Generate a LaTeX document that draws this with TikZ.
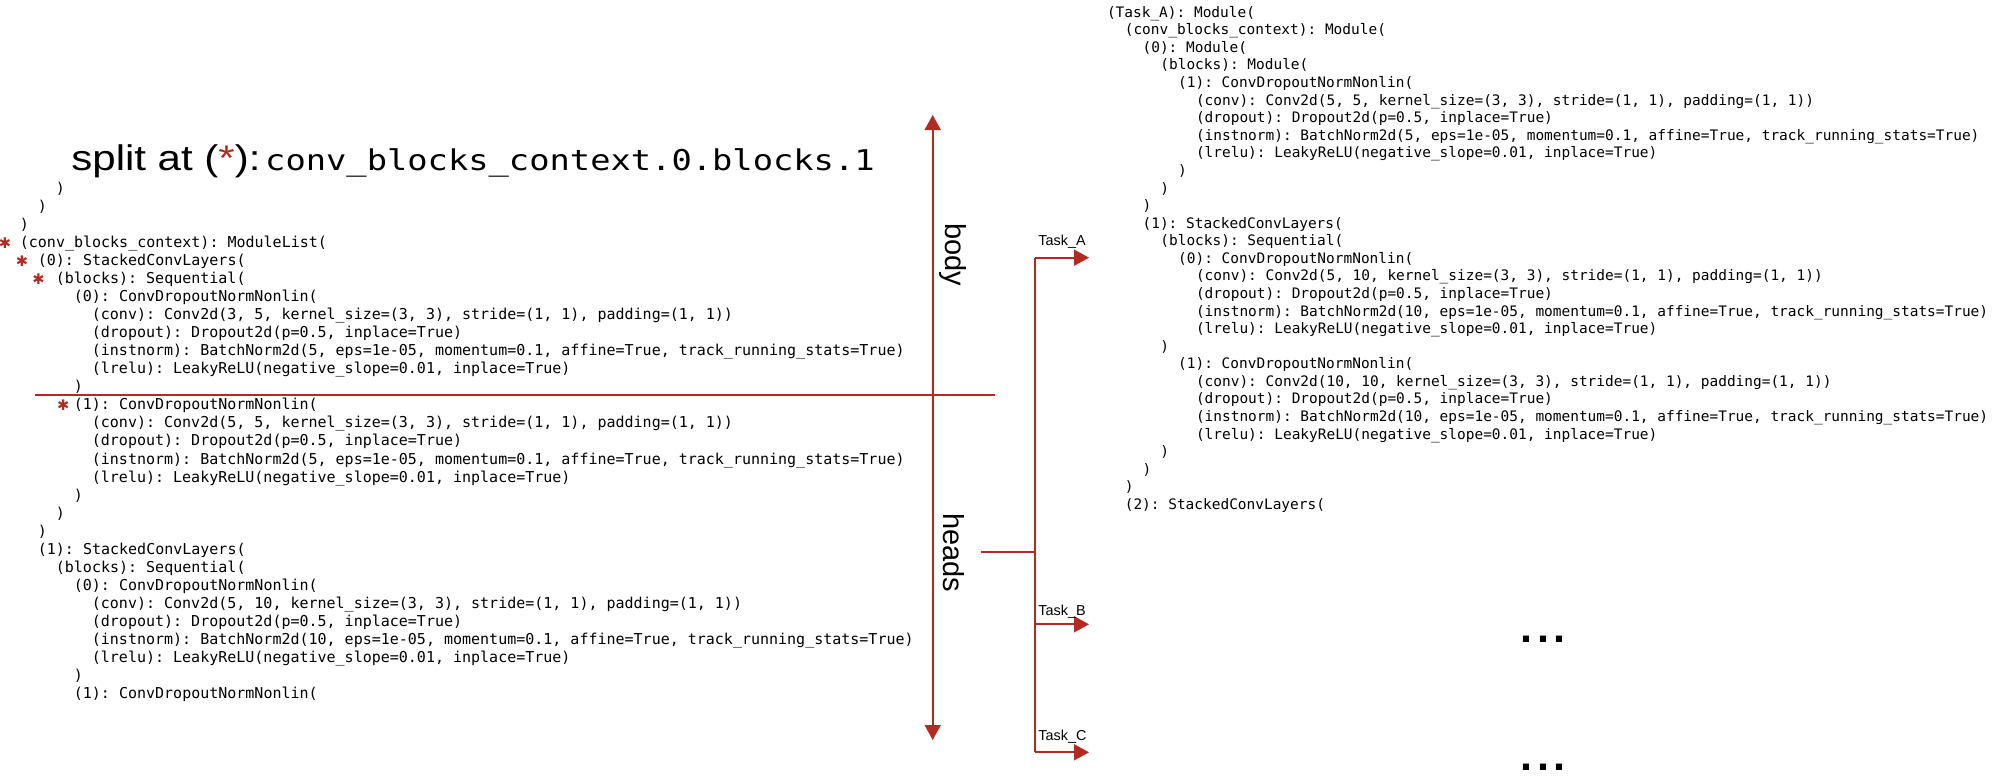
\documentclass[tikz,border=0pt]{standalone}
\usepackage{fontspec}
\setsansfont{Liberation Sans}
\setmonofont{DejaVu Sans Mono}
\newfontfamily\symbolfont{DejaVu Sans}
\usepackage{graphicx}
\usetikzlibrary{arrows.meta,positioning}
\definecolor{splitred}{HTML}{B22A22}

\begin{document}
\begin{tikzpicture}[
    x=0.5pt,y=-0.5pt,
    codeL/.style={font=\ttfamily\fontsize{7.5}{9}\selectfont,anchor=base west,inner sep=0pt},
    codeR/.style={font=\ttfamily\fontsize{7.23}{9}\selectfont,anchor=base west,inner sep=0pt},
    marker/.style={text=splitred,font=\symbolfont\fontsize{7.3}{8}\selectfont,inner sep=0pt},
    part/.style={font=\sffamily\fontsize{14.5}{16}\selectfont,rotate=-90,inner sep=0pt},
    task/.style={font=\sffamily\fontsize{7.2}{8}\selectfont,anchor=base west,inner sep=0pt},
    more/.style={font=\sffamily\bfseries\fontsize{21.5}{24}\selectfont,anchor=base,inner sep=0pt},
    redline/.style={draw=splitred,line width=0.85pt},
    arrow/.style={redline,-{Triangle[length=7.5pt,width=8pt]}},
    bothways/.style={redline,{Triangle[length=7.5pt,width=8pt]}-{Triangle[length=7.5pt,width=8pt]}}
  ]
    \useasboundingbox (0,0) rectangle (1994,782);
    % title
    \node[anchor=base west,inner sep=0pt] (title) at (71,170) {\scalebox{1.18}[1]{\sffamily\fontsize{17.8}{20}\selectfont split at (\textcolor{splitred}{*}):\hspace{2pt}\ttfamily\fontsize{14.3}{16}\selectfont conv\_blocks\_context.0.blocks.1}};
    % body network
    \foreach \ind/\txt [count=\i from 0] in {
        4/{)}, 2/{)}, 0/{)},
        0/{(conv\_blocks\_context): ModuleList(},
        2/{(0): StackedConvLayers(},
        4/{(blocks): Sequential(},
        6/{(0): ConvDropoutNormNonlin(},
        8/{(conv): Conv2d(3, 5, kernel\_size=(3, 3), stride=(1, 1), padding=(1, 1))},
        8/{(dropout): Dropout2d(p=0.5, inplace=True)},
        8/{(instnorm): BatchNorm2d(5, eps=1e-05, momentum=0.1, affine=True, track\_running\_stats=True)},
        8/{(lrelu): LeakyReLU(negative\_slope=0.01, inplace=True)},
        6/{)},
        6/{(1): ConvDropoutNormNonlin(},
        8/{(conv): Conv2d(5, 5, kernel\_size=(3, 3), stride=(1, 1), padding=(1, 1))},
        8/{(dropout): Dropout2d(p=0.5, inplace=True)},
        8/{(instnorm): BatchNorm2d(5, eps=1e-05, momentum=0.1, affine=True, track\_running\_stats=True)},
        8/{(lrelu): LeakyReLU(negative\_slope=0.01, inplace=True)},
        6/{)}, 4/{)}, 2/{)},
        2/{(1): StackedConvLayers(},
        4/{(blocks): Sequential(},
        6/{(0): ConvDropoutNormNonlin(},
        8/{(conv): Conv2d(5, 10, kernel\_size=(3, 3), stride=(1, 1), padding=(1, 1))},
        8/{(dropout): Dropout2d(p=0.5, inplace=True)},
        8/{(instnorm): BatchNorm2d(10, eps=1e-05, momentum=0.1, affine=True, track\_running\_stats=True)},
        8/{(lrelu): LeakyReLU(negative\_slope=0.01, inplace=True)},
        6/{)},
        6/{(1): ConvDropoutNormNonlin(}}
      \node[codeL] (L\i) at ({19.5+9*\ind},{193+18.07*\i}) {\txt};
    % split markers
    \node[marker] (m3) at (5,243) {✱};
    \node[marker] (m4) at (22,261) {✱};
    \node[marker] (m5) at (38.4,279) {✱};
    \node[marker] (m12) at (63.3,405) {✱};
    % head network
    \foreach \ind/\txt [count=\i from 0] in {
        0/{(Task\_A): Module(},
        2/{(conv\_blocks\_context): Module(},
        4/{(0): Module(},
        6/{(blocks): Module(},
        8/{(1): ConvDropoutNormNonlin(},
        10/{(conv): Conv2d(5, 5, kernel\_size=(3, 3), stride=(1, 1), padding=(1, 1))},
        10/{(dropout): Dropout2d(p=0.5, inplace=True)},
        10/{(instnorm): BatchNorm2d(5, eps=1e-05, momentum=0.1, affine=True, track\_running\_stats=True)},
        10/{(lrelu): LeakyReLU(negative\_slope=0.01, inplace=True)},
        8/{)}, 6/{)}, 4/{)},
        4/{(1): StackedConvLayers(},
        6/{(blocks): Sequential(},
        8/{(0): ConvDropoutNormNonlin(},
        10/{(conv): Conv2d(5, 10, kernel\_size=(3, 3), stride=(1, 1), padding=(1, 1))},
        10/{(dropout): Dropout2d(p=0.5, inplace=True)},
        10/{(instnorm): BatchNorm2d(10, eps=1e-05, momentum=0.1, affine=True, track\_running\_stats=True)},
        10/{(lrelu): LeakyReLU(negative\_slope=0.01, inplace=True)},
        6/{)},
        8/{(1): ConvDropoutNormNonlin(},
        10/{(conv): Conv2d(10, 10, kernel\_size=(3, 3), stride=(1, 1), padding=(1, 1))},
        10/{(dropout): Dropout2d(p=0.5, inplace=True)},
        10/{(instnorm): BatchNorm2d(10, eps=1e-05, momentum=0.1, affine=True, track\_running\_stats=True)},
        10/{(lrelu): LeakyReLU(negative\_slope=0.01, inplace=True)},
        6/{)}, 4/{)}, 2/{)},
        2/{(2): StackedConvLayers(}}
      \node[codeR] (R\i) at ({1106.6+8.9*\ind},{17.2+17.58*\i}) {\txt};
    % body / heads axis
    \coordinate (bodytop) at (932.7,115);
    \coordinate (headsbot) at (932.7,740);
    \draw[bothways] (bodytop) -- (headsbot);
    \coordinate (splitL) at (35,394.7);
    \coordinate (splitR) at (995,394.7);
    \draw[redline] (splitL) -- (splitR);
    \node[part] (body) at (953.3,255) {body};
    \node[part] (heads) at (953.5,552.5) {heads};
    % task fork
    \coordinate (stub) at (981,551.7);
    \coordinate (fork) at (1035,551.7);
    \draw[redline] (stub) -- (fork);
    \foreach \t/\y/\b in {A/257.7/245,B/624.3/615,C/752.3/740}{
      \coordinate (fork\t) at (1035,\y);
      \coordinate (tip\t) at (1089,\y);
      \draw[arrow] (fork\t) -- (tip\t);
      \node[task] (label\t) at (1038,\b) {Task\_\t};
    }
    \draw[redline] (forkA) -- (forkC);
    \node[more] (moreB) at (1543,642) {.\hspace{2.5pt}.\hspace{2.5pt}.};
    \node[more] (moreC) at (1543,770) {.\hspace{2.5pt}.\hspace{2.5pt}.};
  \end{tikzpicture}
\end{document}
